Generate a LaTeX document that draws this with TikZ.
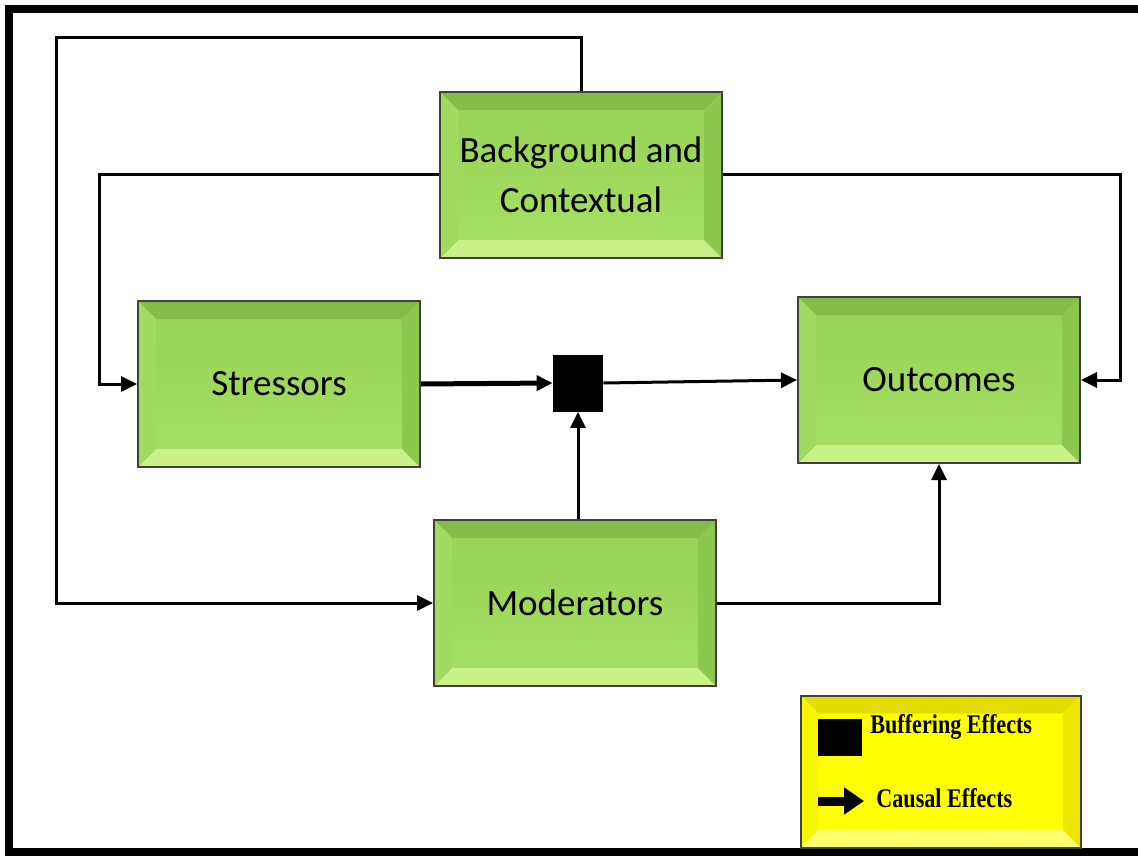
\documentclass[tikz,border=0pt]{standalone}
\usepackage{fontspec}
\setmainfont{Carlito}
\newfontfamily\legendfont[FakeStretch=0.82]{Liberation Serif}
\usetikzlibrary{arrows.meta,positioning}

\definecolor{gface}{RGB}{150,210,86}
\definecolor{gfacelo}{RGB}{166,224,100}
\definecolor{gtop}{RGB}{132,188,72}
\definecolor{gbot}{RGB}{200,242,135}
\definecolor{gleft}{RGB}{160,218,94}
\definecolor{gright}{RGB}{140,200,78}
\definecolor{yface}{RGB}{255,255,0}
\definecolor{ytop}{RGB}{228,222,0}
\definecolor{ybot}{RGB}{255,255,110}
\definecolor{yleft}{RGB}{250,246,0}
\definecolor{yright}{RGB}{236,230,0}

% four bevel sides of a box
\newcommand{\bevelsides}[4]{%
  \fill[#1] (path picture bounding box.north west) -- (path picture bounding box.north east)
    -- ([shift={(-9pt,-9pt)}]path picture bounding box.north east) -- ([shift={(9pt,-9pt)}]path picture bounding box.north west) -- cycle;
  \fill[#2] (path picture bounding box.south west) -- (path picture bounding box.south east)
    -- ([shift={(-9pt,9pt)}]path picture bounding box.south east) -- ([shift={(9pt,9pt)}]path picture bounding box.south west) -- cycle;
  \fill[#3] (path picture bounding box.north west) -- (path picture bounding box.south west)
    -- ([shift={(9pt,9pt)}]path picture bounding box.south west) -- ([shift={(9pt,-9pt)}]path picture bounding box.north west) -- cycle;
  \fill[#4] (path picture bounding box.north east) -- (path picture bounding box.south east)
    -- ([shift={(-9pt,9pt)}]path picture bounding box.south east) -- ([shift={(-9pt,-9pt)}]path picture bounding box.north east) -- cycle;
}

\tikzset{
  box/.style={draw=black!75, line width=1pt, minimum width=141pt, minimum height=83pt,
    align=center, font=\fontsize{18.5}{25}\selectfont, top color=gface, bottom color=gfacelo,
    path picture={\bevelsides{gtop}{gbot}{gleft}{gright}}},
  legendbox/.style={draw=black!75, line width=1pt, minimum width=140pt, minimum height=76pt,
    fill=yface, path picture={\bevelsides{ytop}{ybot}{yleft}{yright}}},
  arr/.style={line width=1.5pt, -{Triangle[length=8pt,width=7.5pt]}},
  buffer/.style={fill=black, minimum width=25pt, minimum height=28.5pt, inner sep=0pt},
  legendtext/.style={font=\legendfont\bfseries\fontsize{13.5}{16}\selectfont, anchor=west, inner sep=0pt}
}

\begin{document}
\begin{tikzpicture}[x=0.5pt, y=-0.5pt]
  \useasboundingbox (0,0) rectangle (1138,855);
  % frame
  \draw[line width=4pt] (1140,9) -- (9,9) -- (9,852) -- (1140,852);
  % boxes
  \node[box] (bg) at (581,175) {Background and\\Contextual};
  \node[box] (str) at (279,384) {Stressors};
  \node[box] (out) at (939,380) {Outcomes};
  \node[box] (mod) at (575,603) {Moderators};
  \node[buffer] (buf) at (578,383) {};
  % corners of the long lines
  \coordinate (top) at (56,38);
  \coordinate (left) at (99,175);
  \coordinate (right) at (1120,175);
  % effects
  \draw[arr] (bg.north) |- (top) |- (mod.west);
  \draw[arr] (bg.west) -- (left) |- (str.west);
  \draw[arr] (bg.east) -- (right) |- (out.east);
  \draw[arr, line width=2.5pt] (str.east) -- (buf.west);
  \draw[arr] (buf.east) -- (out.west);
  \draw[arr] (buf.south |- mod.north) -- (buf.south);
  \draw[arr] (mod.east) -| (out.south);
  % legend
  \node[legendbox] (leg) at (940.5,771.5) {};
  \node[fill=black, minimum width=22pt, minimum height=18.5pt, inner sep=0pt] (sq) at (840,737.5) {};
  \node[legendtext] (buftext) at (870,727) {Buffering Effects};
  \coordinate (a1) at (818,801);
  \coordinate (a2) at (864,801);
  \draw[line width=4.5pt, -{Triangle[length=10pt,width=13pt]}] (a1) -- (a2);
  \node[legendtext] (caustext) at (876,798) {Causal Effects};
\end{tikzpicture}
\end{document}
